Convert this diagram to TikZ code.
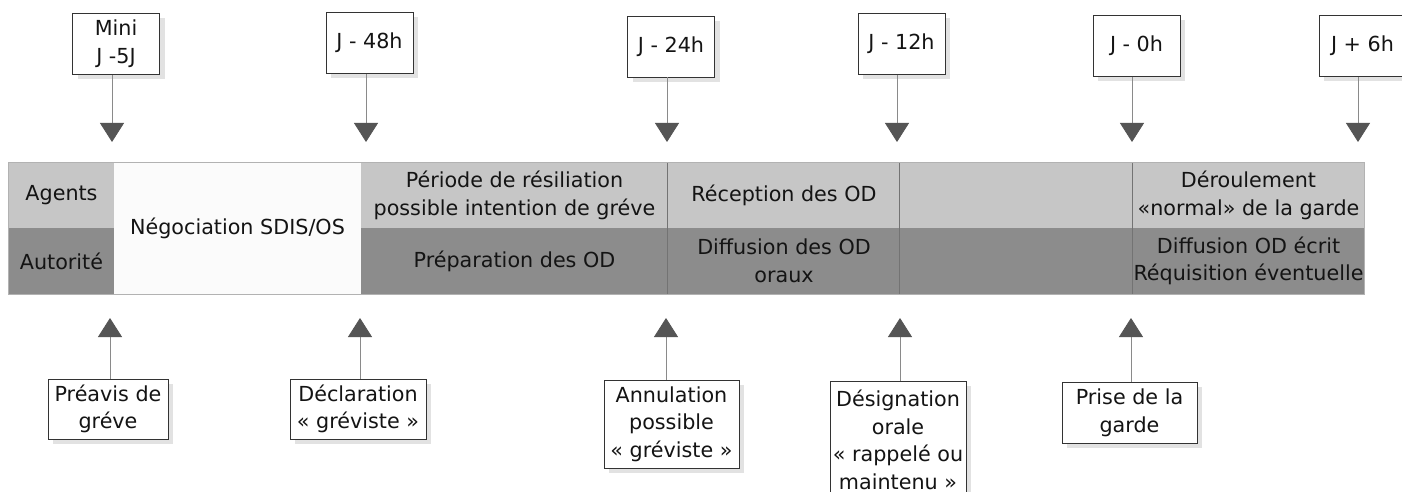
\documentclass[tikz,border=0pt]{standalone}
\usepackage{fontspec}
\setmainfont{DejaVu Sans}
\usetikzlibrary{arrows.meta,shadows}

\definecolor{lightrow}{HTML}{C6C6C6}
\definecolor{darkrow}{HTML}{8C8C8C}
\definecolor{txtc}{HTML}{141414}
\definecolor{tric}{HTML}{555555}
\definecolor{connc}{HTML}{8A8A8A}
\definecolor{shadowc}{HTML}{E2E2E2}
\definecolor{negoc}{HTML}{FBFBFB}

\begin{document}
\begin{tikzpicture}[x=1pt,y=-1pt,
  every node/.style={font=\fontsize{20.7}{27.7}\selectfont, text=txtc, inner sep=0pt, align=center},
  labelbox/.style={draw=black!80, line width=0.9pt, fill=white,
    drop shadow={shadow xshift=5pt, shadow yshift=-5pt, fill=shadowc, opacity=1}},
  topbox/.style={labelbox, minimum width=87pt, minimum height=61pt},
  cellA/.style={fill=lightrow, minimum height=65pt},
  cellB/.style={fill=darkrow, minimum height=66pt},
  sepline/.style={draw=black!55, line width=0.7pt},
  barline/.style={draw=black!30, line width=0.8pt},
  downconn/.style={draw=connc, line width=0.8pt, -{Triangle[width=24pt,length=19pt,color=tric]}},
  upconn/.style={draw=connc, line width=0.8pt, -{Triangle[width=24pt,length=19pt,color=tric]}}
]
\useasboundingbox (0,0) rectangle (1402,492);
\fill[white] (0,0) rectangle (1402,492);

% ---------- bar ----------
\node[cellA, minimum width=105pt] (agents) at (61.5,195.5) {Agents};
\node[cellB, minimum width=105pt] (autorite) at (61.5,261) {Autorité};
\node[fill=negoc, minimum width=247pt, minimum height=131pt] (nego) at (237.5,228.5) {Négociation SDIS/OS};
\node[cellA, minimum width=307pt] (periode) at (514.5,195.5) {Période de résiliation\\possible intention de gréve};
\node[cellB, minimum width=307pt] (prep) at (514.5,261) {Préparation des OD};
\node[cellA, minimum width=232pt] (recep) at (784,195.5) {Réception des OD};
\node[cellB, minimum width=232pt] (diffu) at (784,261) {Diffusion des OD\\oraux};
\node[cellA, minimum width=233pt] (videA) at (1016.5,195.5) {};
\node[cellB, minimum width=233pt] (videB) at (1016.5,261) {};
\node[cellA, minimum width=231pt] (derou) at (1248.5,195.5) {Déroulement\\«normal» de la garde};
\node[cellB, minimum width=231pt] (ecrit) at (1248.5,261) {Diffusion OD écrit\\Réquisition éventuelle};

\draw[barline] (agents.north west) rectangle (ecrit.south east);
\draw[sepline] (recep.north west) -- (diffu.south west);
\draw[sepline] (videA.north west) -- (videB.south west);
\draw[sepline] (derou.north west) -- (ecrit.south west);

% ---------- top boxes ----------
\node[topbox] (mini) at (116,44) {Mini\\J -5J};
\node[topbox] (h48) at (369.5,43) {J - 48h};
\node[topbox] (h24) at (671,46.5) {J - 24h};
\node[topbox] (h12) at (901.5,44) {J - 12h};
\node[topbox] (h0) at (1136.5,46) {J - 0h};
\node[topbox] (h6) at (1362.5,46) {J + 6h};

\coordinate (a1) at (112,142);
\coordinate (a2) at (366,142);
\coordinate (a3) at (667,142);
\coordinate (a4) at (897,142);
\coordinate (a5) at (1132,142);
\coordinate (a6) at (1358,142);
\draw[downconn] (a1 |- mini.south) -- (a1);
\draw[downconn] (a2 |- h48.south) -- (a2);
\draw[downconn] (a3 |- h24.south) -- (a3);
\draw[downconn] (a4 |- h12.south) -- (a4);
\draw[downconn] (a5 |- h0.south) -- (a5);
\draw[downconn] (a6 |- h6.south) -- (a6);

% ---------- bottom boxes ----------
\node[labelbox, minimum width=120pt, minimum height=60pt] (preavis) at (108,409) {Préavis de\\gréve};
\node[labelbox, minimum width=136pt, minimum height=60pt] (decl) at (358,409) {Déclaration\\«~gréviste~»};
\node[labelbox, minimum width=135pt, minimum height=88pt] (annul) at (671.5,424) {Annulation\\possible\\«~gréviste~»};
\node[labelbox, minimum width=136pt, minimum height=118pt] (design) at (898,440) {Désignation\\orale\\«~rappelé ou\\maintenu~»};
\node[labelbox, minimum width=135pt, minimum height=61pt] (prise) at (1129.5,412.5) {Prise de la\\garde};

\coordinate (b1) at (110,318);
\coordinate (b2) at (360,318);
\coordinate (b3) at (666,318);
\coordinate (b4) at (900,318);
\coordinate (b5) at (1131,318);
\draw[upconn] (preavis.north -| b1) -- (b1);
\draw[upconn] (decl.north -| b2) -- (b2);
\draw[upconn] (annul.north -| b3) -- (b3);
\draw[upconn] (design.north -| b4) -- (b4);
\draw[upconn] (prise.north -| b5) -- (b5);
\end{tikzpicture}
\end{document}
